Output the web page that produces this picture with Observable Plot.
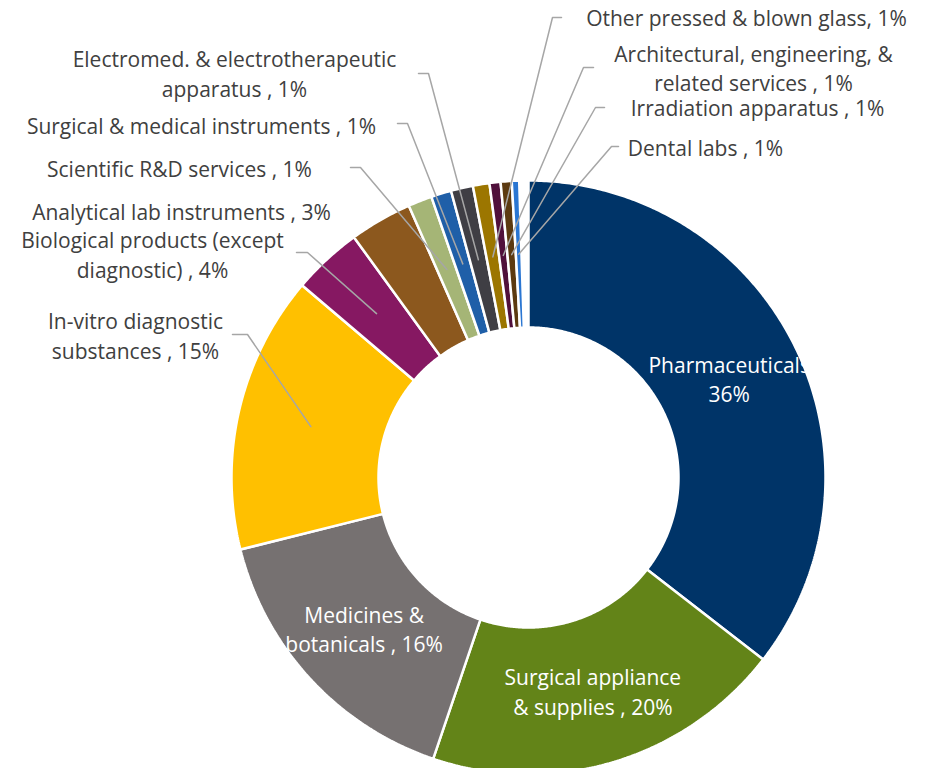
<!DOCTYPE html>
<html>
<head>
<meta charset="utf-8">
<script src="https://cdn.jsdelivr.net/npm/d3@7"></script>
<script src="https://cdn.jsdelivr.net/npm/@observablehq/plot@0.6"></script>
<style>
  html, body { margin: 0; padding: 0; background: #fff; overflow: hidden; }
</style>
</head>
<body>
<div id="chart"></div>
<script>
// ---- Data (clockwise from 12 o'clock) ----
const categories = [
  "Pharmaceuticals",
  "Surgical appliance & supplies",
  "Medicines & botanicals",
  "In-vitro diagnostic substances",
  "Biological products (except diagnostic)",
  "Analytical lab instruments",
  "Scientific R&D services",
  "Surgical & medical instruments",
  "Electromed. & electrotherapeutic apparatus",
  "Other pressed & blown glass",
  "Architectural, engineering, & related services",
  "Irradiation apparatus",
  "Dental labs"
];
// share of the whole, in percent
const shares = [35.5, 19.7, 15.9, 15.1, 3.8, 3.4, 1.3, 1.1, 1.2, 0.9, 0.6, 0.6, 0.4];
// label texts as printed on the chart
const labelTexts = [
  "Pharmaceuticals\n36%",
  "Surgical appliance\n& supplies , 20%",
  "Medicines &\nbotanicals , 16%",
  "In-vitro diagnostic\nsubstances , 15%",
  "Biological products (except\ndiagnostic) , 4%",
  "Analytical lab instruments , 3%",
  "Scientific R&D services , 1%",
  "Surgical & medical instruments , 1%",
  "Electromed. & electrotherapeutic\napparatus , 1%",
  "Other pressed & blown glass, 1%",
  "Architectural, engineering, &\nrelated services , 1%",
  "Irradiation apparatus , 1%",
  "Dental labs , 1%"
];
const sliceColors = [
  "#003468", "#638418", "#767171", "#ffc000", "#861862", "#8c581e",
  "#a5b576", "#1f5fa8", "#3f3e44", "#9c7600", "#50103b", "#5c3a10", "#2a76d2"
];

// ---- Layout (pixels) ----
const W = 928, H = 768;
const CX = 528, CY = 477, R_OUT = 297, R_IN = 150;
const FONT_SIZE = 21, LINE_PX = 29.5;
const insideLabels = [0, 1, 2];
// outer labels: text block centre (tx, ty); leader: start lx -> elbow ex at height ly (null = no leader)
const outerLayout = {
  3:  {tx: 135, ty: 336, lx: 232, ex: 247, ly: 334},
  4:  {tx: 152, ty: 255, lx: 296, ex: 307, ly: 252},
  5:  {tx: 181, ty: 212, lx: null},
  6:  {tx: 179, ty: 169, lx: 350, ex: 360, ly: 167},
  7:  {tx: 201, ty: 126, lx: 397, ex: 407, ly: 123},
  8:  {tx: 234, ty: 74,  lx: 418, ex: 428, ly: 73},
  9:  {tx: 746, ty: 18,  lx: 561, ex: 552, ly: 17},
  10: {tx: 753, ty: 68.5, lx: 593, ex: 583, ly: 67},
  11: {tx: 757, ty: 108, lx: 604, ex: 595, ly: 107},
  12: {tx: 705, ty: 148, lx: 618, ex: 611, ly: 146}
};

// ---- Geometry from the data ----
let acc = 0;
const slices = categories.map((name, i) => {
  const a0 = acc / 100 * 2 * Math.PI;
  acc += shares[i];
  const a1 = acc / 100 * 2 * Math.PI;
  return {i, name, a0, a1, mid: (a0 + a1) / 2};
});
const pt = (r, a) => ({x: CX + r * Math.sin(a), y: CY - r * Math.cos(a)});

const polys = [];
for (const s of slices) {
  const n = Math.max(4, Math.ceil((s.a1 - s.a0) / (Math.PI / 360)));
  for (let k = 0; k <= n; k++) polys.push({name: s.name, ...pt(R_OUT, s.a0 + (s.a1 - s.a0) * k / n)});
  for (let k = n; k >= 0; k--) polys.push({name: s.name, ...pt(R_IN, s.a0 + (s.a1 - s.a0) * k / n)});
}

const R_MID = (R_OUT + R_IN) / 2;
const innerText = insideLabels.map(i => ({text: labelTexts[i], ...pt(R_MID, slices[i].mid)}));

const outerText = [];
const leaders = [];
for (const [k, L] of Object.entries(outerLayout)) {
  const i = +k;
  outerText.push({text: labelTexts[i], x: L.tx, y: L.ty});
  if (L.lx != null) {
    const c = pt(R_MID, slices[i].mid);
    leaders.push({id: i, x: L.lx, y: L.ly});
    leaders.push({id: i, x: L.ex, y: L.ly});
    leaders.push({id: i, x: c.x, y: c.y});
  }
}

const font = "'Open Sans', 'Noto Sans', sans-serif";

const chart = Plot.plot({
  width: W,
  height: H,
  margin: 0,
  x: {type: "linear", domain: [0, W], range: [0, W], axis: null},
  y: {type: "linear", domain: [0, H], range: [0, H], axis: null},
  color: {domain: categories, range: sliceColors},
  style: {fontFamily: font, background: "#fff"},
  marks: [
    Plot.line(polys, {
      x: "x", y: "y", z: "name", fill: "name",
      stroke: "white", strokeWidth: 2.5, curve: "linear-closed", strokeLinejoin: "miter"
    }),
    Plot.line(leaders, {x: "x", y: "y", z: "id", stroke: "#a6a6a6", strokeWidth: 1.5}),
    Plot.text(innerText, {
      x: "x", y: "y", text: "text", fill: "white", fontSize: FONT_SIZE, dy: -1,
      lineHeight: LINE_PX / FONT_SIZE, textAnchor: "middle", fontFamily: font
    }),
    Plot.text(outerText, {
      x: "x", y: "y", text: "text", fill: "#404040", fontSize: FONT_SIZE, dy: -2,
      lineHeight: LINE_PX / FONT_SIZE, textAnchor: "middle", fontFamily: font
    })
  ]
});
document.getElementById("chart").appendChild(chart);
</script>
</body>
</html>
